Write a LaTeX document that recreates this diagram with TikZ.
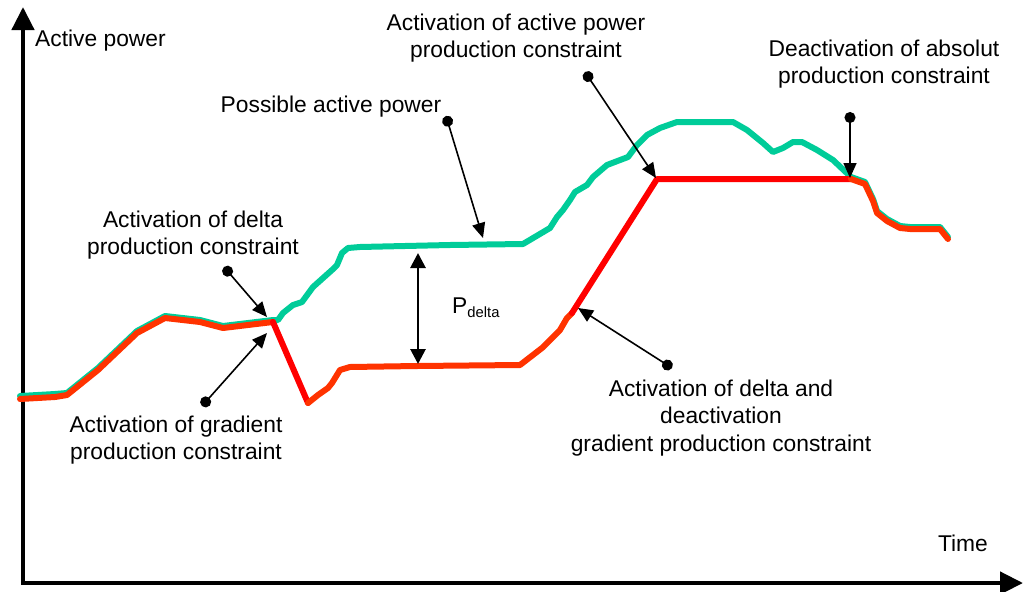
\documentclass[tikz,border=0pt]{standalone}
\usepackage{fontspec}
\setmainfont{Liberation Sans}
\usetikzlibrary{arrows.meta}
\definecolor{possgreen}{HTML}{00CC99}
\definecolor{actorange}{HTML}{FF3300}
\definecolor{limred}{HTML}{FF0000}
\begin{document}
\begin{tikzpicture}[x=1pt,y=-1pt,
  axisline/.style={line width=4.5pt,-{Triangle[length=23pt,width=22pt]}},
  greencurve/.style={possgreen,line width=6pt,line join=round,line cap=round},
  orangecurve/.style={actorange,line width=6pt,line join=round,line cap=round},
  redcurve/.style={limred,line width=6pt,line join=round,line cap=round},
  annot/.style={line width=1.6pt,{Circle[length=11pt]}-{Triangle[length=15pt,width=13pt]}},
  deltaarrow/.style={line width=2.8pt,{Triangle[length=15pt,width=15pt]}-{Triangle[length=15pt,width=15pt]}},
  lbl/.style={inner sep=0pt,align=center,font=\fontsize{22.8}{27.5}\selectfont}
]
\useasboundingbox (0,0) rectangle (1026,592);
% axes
\coordinate (O) at (23,583);
\coordinate (Ytop) at (23,7);
\coordinate (Xend) at (1023,583);
\draw[axisline] ([yshift=-1pt]O) -- (Ytop);
\draw[axisline] ([xshift=-2pt]O) -- (Xend);
\node[lbl,anchor=west] (ylab) at (35,41) {Active power};
\node[lbl] (xlab) at (963,543) {Time};
% possible active power (green)
\draw[greencurve] plot coordinates {(20,396) (55,394) (67,393) (98,368) (137,331) (165,316) (200,320) (223,326) (273,320)
 (278,320) (283,313) (293,305) (302,302) (313,287) (332,270) (337,265) (342,253) (348,248) (360,247) (450,245) (523,244)
 (550,228) (557,217) (563,210) (570,200) (575,192) (587,185) (593,177) (607,165) (628,157) (637,145) (647,135) (660,128)
 (677,122) (733,122) (747,130) (763,143) (773,152) (783,148) (793,142) (802,142) (817,150) (833,160) (851,177) (865,182)
 (873,199) (877,211) (887,219) (900,226) (910,227) (940,227) (948,237)};
% actual production (orange) and constrained parts (red)
\draw[orangecurve] plot coordinates {(20,399) (55,397) (67,395) (98,370) (137,333) (165,318) (200,322) (223,328) (273,322)};
\draw[redcurve] (273,322) -- (308,403);
\draw[orangecurve] plot coordinates {(308,403) (318,395) (328,388) (332,383) (340,370) (350,367) (417,366) (520,365)
 (542,348) (553,337) (560,330) (567,318) (572,313)};
\draw[redcurve] (572,313) -- (657,179) -- (851,179);
\draw[orangecurve] plot coordinates {(851,179) (865,184) (873,201) (877,213) (887,221) (900,228) (910,229) (940,229) (948,239)};
% P delta
\coordinate (pdtop) at (418,253);
\coordinate (pdbot) at (418,364);
\draw[deltaarrow] (pdtop) -- (pdbot);
\node[lbl,anchor=west] (pdlab) at (452,308) {P\raisebox{-0.3ex}{\fontsize{14.8}{15}\selectfont delta}};
% labels
\node[lbl] (l1) at (516,38) {Activation of active power\\production constraint};
\node[lbl] (l2) at (884,64) {Deactivation of absolut\\production constraint};
\node[lbl] (l3) at (331,107) {Possible active power};
\node[lbl] (l4) at (193,235) {Activation of delta\\production constraint};
\node[lbl] (l5) at (176,440) {Activation of gradient\\production constraint};
\node[lbl] (l6) at (721,418) {Activation of delta and\\deactivation\\gradient production constraint};
% annotation arrows
\coordinate (d1) at (585,72);  \coordinate (t1) at (656,178);
\coordinate (d2) at (850,112); \coordinate (t2) at (850,178);
\coordinate (d3) at (446,116); \coordinate (t3) at (483,238);
\coordinate (d4) at (224,267); \coordinate (t4) at (267,317);
\coordinate (d5) at (202,406); \coordinate (t5) at (267,333);
\coordinate (d6) at (672,368); \coordinate (t6) at (578,308);
\draw[annot] (d1) -- (t1);
\draw[annot] (d2) -- (t2);
\draw[annot] (d3) -- (t3);
\draw[annot] (d4) -- (t4);
\draw[annot] (d5) -- (t5);
\draw[annot] (d6) -- (t6);
\end{tikzpicture}
\end{document}
